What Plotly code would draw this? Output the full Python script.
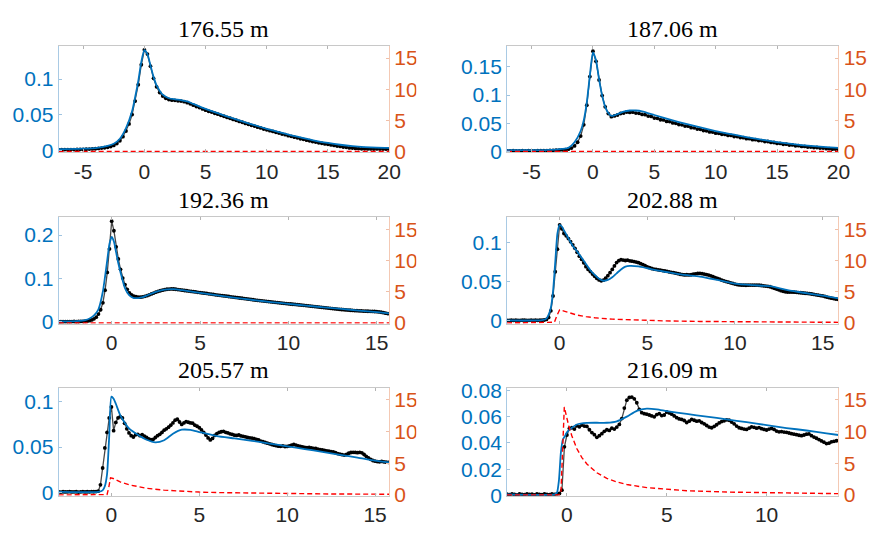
import numpy as np
import plotly.graph_objects as go

# ---------------------------------------------------------------------------
# Panel titles (depth of each record)
TITLES = ["176.55 m", "187.06 m", "192.36 m", "202.88 m", "205.57 m", "216.09 m"]

# ---------------------------------------------------------------------------
# Measured signal (black), sampled on a regular grid starting at X0 with step DX
P1_X0, P1_DX = -7.0, 0.25
P1_DATA = [0.0008, 0.0007, 0.0009, 0.0008, 0.0010, 0.0009, 0.0011, 0.0012, 0.0012, 0.0014,
           0.0016, 0.0019, 0.0021, 0.0025, 0.0030, 0.0035, 0.0042, 0.0052, 0.0067, 0.0094,
           0.0133, 0.0190, 0.0270, 0.0370, 0.0500, 0.0690, 0.0920, 0.1200, 0.1410, 0.1350,
           0.1180, 0.1010, 0.0890, 0.0810, 0.0760, 0.0728, 0.0712, 0.0703, 0.0700, 0.0694,
           0.0690, 0.0681, 0.0668, 0.0651, 0.0632, 0.0614, 0.0599, 0.0580, 0.0563, 0.0547,
           0.0535, 0.0519, 0.0506, 0.0490, 0.0477, 0.0461, 0.0449, 0.0433, 0.0421, 0.0405,
           0.0393, 0.0377, 0.0365, 0.0350, 0.0339, 0.0324, 0.0313, 0.0298, 0.0287, 0.0274,
           0.0264, 0.0251, 0.0242, 0.0228, 0.0219, 0.0205, 0.0196, 0.0183, 0.0174, 0.0161,
           0.0153, 0.0141, 0.0133, 0.0121, 0.0114, 0.0104, 0.0098, 0.0089, 0.0084, 0.0074,
           0.0068, 0.0059, 0.0054, 0.0045, 0.0041, 0.0033, 0.0031, 0.0025, 0.0024, 0.0020,
           0.0021, 0.0018, 0.0019, 0.0017, 0.0018, 0.0016, 0.0017, 0.0015, 0.0016]

P2_X0, P2_DX = -7.0, 0.25
P2_DATA = [0.0006, 0.0004, 0.0008, 0.0005, 0.0007, 0.0009, 0.0005, 0.0008, 0.0010, 0.0007,
           0.0010, 0.0008, 0.0012, 0.0011, 0.0014, 0.0013, 0.0017, 0.0018, 0.0024, 0.0027,
           0.0036, 0.0055, 0.0095, 0.0160, 0.0270, 0.0470, 0.0820, 0.1330, 0.1780, 0.1600,
           0.1270, 0.0990, 0.0790, 0.0670, 0.0615, 0.0628, 0.0645, 0.0672, 0.0680, 0.0698,
           0.0690, 0.0696, 0.0680, 0.0675, 0.0655, 0.0650, 0.0626, 0.0620, 0.0590, 0.0585,
           0.0560, 0.0558, 0.0530, 0.0528, 0.0503, 0.0498, 0.0474, 0.0470, 0.0448, 0.0445,
           0.0420, 0.0416, 0.0394, 0.0390, 0.0368, 0.0364, 0.0344, 0.0340, 0.0321, 0.0319,
           0.0301, 0.0299, 0.0282, 0.0281, 0.0262, 0.0260, 0.0242, 0.0241, 0.0224, 0.0223,
           0.0206, 0.0205, 0.0189, 0.0189, 0.0173, 0.0173, 0.0156, 0.0155, 0.0138, 0.0139,
           0.0124, 0.0125, 0.0111, 0.0112, 0.0097, 0.0098, 0.0085, 0.0086, 0.0074, 0.0075,
           0.0065, 0.0066, 0.0055, 0.0056, 0.0045, 0.0046, 0.0037, 0.0039, 0.0033]

P3_X0, P3_DX = -3.0, 0.125
P3_DATA = [0.0006, 0.0005, 0.0007, 0.0006, 0.0008, 0.0007, 0.0008, 0.0009, 0.0008, 0.0010,
           0.0011, 0.0012, 0.0015, 0.0020, 0.0029, 0.0045, 0.0070, 0.0110, 0.0180, 0.0280,
           0.0440, 0.0730, 0.1140, 0.1680, 0.2320, 0.2100, 0.1730, 0.1450, 0.1210, 0.1010,
           0.0860, 0.0750, 0.0670, 0.0625, 0.0595, 0.0580, 0.0572, 0.0570, 0.0578, 0.0590,
           0.0605, 0.0625, 0.0645, 0.0665, 0.0685, 0.0702, 0.0718, 0.0732, 0.0743, 0.0752,
           0.0757, 0.0760, 0.0758, 0.0752, 0.0745, 0.0740, 0.0732, 0.0724, 0.0718, 0.0710,
           0.0703, 0.0697, 0.0690, 0.0682, 0.0675, 0.0668, 0.0662, 0.0655, 0.0648, 0.0640,
           0.0632, 0.0625, 0.0618, 0.0612, 0.0605, 0.0598, 0.0592, 0.0585, 0.0578, 0.0571,
           0.0565, 0.0558, 0.0551, 0.0545, 0.0538, 0.0531, 0.0524, 0.0517, 0.0510, 0.0504,
           0.0498, 0.0492, 0.0486, 0.0480, 0.0474, 0.0468, 0.0462, 0.0456, 0.0451, 0.0446,
           0.0440, 0.0434, 0.0428, 0.0422, 0.0417, 0.0412, 0.0407, 0.0402, 0.0397, 0.0392,
           0.0387, 0.0382, 0.0377, 0.0371, 0.0365, 0.0359, 0.0353, 0.0347, 0.0341, 0.0336,
           0.0331, 0.0325, 0.0319, 0.0313, 0.0307, 0.0301, 0.0296, 0.0291, 0.0286, 0.0281,
           0.0277, 0.0273, 0.0269, 0.0265, 0.0262, 0.0259, 0.0256, 0.0253, 0.0250, 0.0248,
           0.0246, 0.0244, 0.0242, 0.0240, 0.0236, 0.0230, 0.0222, 0.0212, 0.0201, 0.0192,
           0.0186]

P4_X0, P4_DX = -3.0, 0.125
P4_DATA = [0.0008, 0.0006, 0.0009, 0.0007, 0.0010, 0.0008, 0.0006, 0.0009, 0.0011, 0.0007,
           0.0008, 0.0010, 0.0006, 0.0009, 0.0008, 0.0010, 0.0009, 0.0012, 0.0020, 0.0045,
           0.0130, 0.0320, 0.0630, 0.0920, 0.1230, 0.1180, 0.1120, 0.1090, 0.1055, 0.1015,
           0.0975, 0.0930, 0.0880, 0.0830, 0.0790, 0.0745, 0.0695, 0.0660, 0.0632, 0.0600,
           0.0572, 0.0545, 0.0525, 0.0515, 0.0522, 0.0548, 0.0580, 0.0618, 0.0660, 0.0705,
           0.0748, 0.0772, 0.0785, 0.0780, 0.0774, 0.0779, 0.0770, 0.0766, 0.0760, 0.0754,
           0.0746, 0.0734, 0.0722, 0.0707, 0.0692, 0.0682, 0.0672, 0.0665, 0.0660, 0.0655,
           0.0650, 0.0645, 0.0640, 0.0635, 0.0628, 0.0623, 0.0618, 0.0612, 0.0605, 0.0598,
           0.0594, 0.0590, 0.0592, 0.0589, 0.0592, 0.0598, 0.0604, 0.0608, 0.0610, 0.0606,
           0.0600, 0.0594, 0.0588, 0.0578, 0.0566, 0.0555, 0.0545, 0.0535, 0.0522, 0.0512,
           0.0504, 0.0496, 0.0488, 0.0480, 0.0472, 0.0466, 0.0462, 0.0460, 0.0458, 0.0457,
           0.0458, 0.0460, 0.0459, 0.0458, 0.0460, 0.0457, 0.0454, 0.0450, 0.0447, 0.0443,
           0.0438, 0.0428, 0.0418, 0.0408, 0.0398, 0.0388, 0.0380, 0.0374, 0.0371, 0.0370,
           0.0371, 0.0369, 0.0366, 0.0363, 0.0361, 0.0358, 0.0355, 0.0352, 0.0349, 0.0345,
           0.0340, 0.0335, 0.0330, 0.0325, 0.0320, 0.0313, 0.0305, 0.0298, 0.0292, 0.0286,
           0.0281, 0.0277]

P5_X0, P5_DX = -3.0, 0.125
P5_DATA = [0.0008, 0.0006, 0.0009, 0.0007, 0.0008, 0.0010, 0.0007, 0.0008, 0.0009, 0.0006,
           0.0008, 0.0010, 0.0007, 0.0009, 0.0008, 0.0010, 0.0009, 0.0011, 0.0016, 0.0085,
           0.0270, 0.0490, 0.0660, 0.0820, 0.0940, 0.0680, 0.0770, 0.0820, 0.0835, 0.0820,
           0.0760, 0.0700, 0.0655, 0.0625, 0.0610, 0.0635, 0.0640, 0.0625, 0.0635, 0.0620,
           0.0605, 0.0590, 0.0580, 0.0585, 0.0605, 0.0625, 0.0640, 0.0660, 0.0685, 0.0700,
           0.0718, 0.0740, 0.0765, 0.0795, 0.0805, 0.0775, 0.0748, 0.0765, 0.0778, 0.0772,
           0.0765, 0.0762, 0.0740, 0.0728, 0.0712, 0.0688, 0.0660, 0.0632, 0.0600, 0.0578,
           0.0595, 0.0628, 0.0648, 0.0660, 0.0668, 0.0672, 0.0662, 0.0655, 0.0645, 0.0638,
           0.0630, 0.0628, 0.0632, 0.0622, 0.0618, 0.0612, 0.0605, 0.0600, 0.0598, 0.0592,
           0.0585, 0.0578, 0.0565, 0.0558, 0.0550, 0.0542, 0.0535, 0.0528, 0.0520, 0.0515,
           0.0510, 0.0508, 0.0512, 0.0506, 0.0507, 0.0512, 0.0520, 0.0528, 0.0522, 0.0512,
           0.0508, 0.0502, 0.0497, 0.0493, 0.0496, 0.0490, 0.0486, 0.0484, 0.0478, 0.0472,
           0.0468, 0.0462, 0.0458, 0.0455, 0.0450, 0.0446, 0.0438, 0.0428, 0.0422, 0.0416,
           0.0412, 0.0418, 0.0432, 0.0440, 0.0442, 0.0441, 0.0438, 0.0442, 0.0436, 0.0418,
           0.0398, 0.0380, 0.0365, 0.0352, 0.0345, 0.0340, 0.0338, 0.0342, 0.0338, 0.0334,
           0.0332]

P6_X0, P6_DX = -3.0, 0.125
P6_DATA = [0.0010, 0.0006, 0.0012, 0.0008, 0.0005, 0.0011, 0.0009, 0.0006, 0.0012, 0.0008,
           0.0010, 0.0005, 0.0011, 0.0009, 0.0007, 0.0012, 0.0008, 0.0006, 0.0011, 0.0009,
           0.0012, 0.0015, 0.0040, 0.0370, 0.0460, 0.0510, 0.0515, 0.0505, 0.0530, 0.0522,
           0.0535, 0.0528, 0.0525, 0.0500, 0.0478, 0.0462, 0.0442, 0.0455, 0.0470, 0.0488,
           0.0500, 0.0495, 0.0512, 0.0505, 0.0520, 0.0540, 0.0585, 0.0665, 0.0725, 0.0745,
           0.0748, 0.0735, 0.0705, 0.0655, 0.0630, 0.0622, 0.0618, 0.0612, 0.0605, 0.0598,
           0.0615, 0.0622, 0.0608, 0.0612, 0.0635, 0.0628, 0.0618, 0.0605, 0.0592, 0.0582,
           0.0578, 0.0570, 0.0555, 0.0565, 0.0578, 0.0572, 0.0565, 0.0568, 0.0555, 0.0545,
           0.0532, 0.0520, 0.0515, 0.0525, 0.0538, 0.0552, 0.0562, 0.0568, 0.0575, 0.0572,
           0.0558, 0.0545, 0.0528, 0.0515, 0.0510, 0.0505, 0.0502, 0.0512, 0.0522, 0.0518,
           0.0512, 0.0516, 0.0508, 0.0502, 0.0498, 0.0505, 0.0510, 0.0502, 0.0490, 0.0484,
           0.0486, 0.0482, 0.0480, 0.0475, 0.0470, 0.0466, 0.0462, 0.0458, 0.0455, 0.0460,
           0.0466, 0.0468, 0.0455, 0.0444, 0.0435, 0.0425, 0.0415, 0.0405, 0.0395, 0.0398,
           0.0408, 0.0412, 0.0416, 0.0418]

# ---------------------------------------------------------------------------
# Model fit (blue)
P1_FIT_X = [-7, -5, -4, -3, -2.5, -2, -1.5, -1, -0.75, -0.5, -0.25, 0, 0.25, 0.5, 0.75, 1,
            1.5, 2, 2.5, 3, 3.5, 4, 5, 6, 7, 8, 9, 10, 11, 12, 13, 14, 15, 16, 17, 18, 19, 20]
P1_FIT_Y = [0.0015, 0.0022, 0.0030, 0.0060, 0.0090, 0.0160, 0.0310, 0.0550, 0.0750, 0.0970,
            0.1240, 0.1405, 0.1350, 0.1190, 0.1030, 0.0910, 0.0780, 0.0730, 0.0715, 0.0705,
            0.0685, 0.0650, 0.0580, 0.0520, 0.0460, 0.0405, 0.0352, 0.0301, 0.0254, 0.0210,
            0.0170, 0.0133, 0.0102, 0.0077, 0.0058, 0.0045, 0.0037, 0.0033]

P2_FIT_X = [-7, -4, -3, -2.5, -2, -1.5, -1, -0.75, -0.5, -0.25, 0, 0.25, 0.5, 0.75, 1, 1.25,
            1.5, 1.75, 2, 2.5, 3, 3.5, 4, 5, 6, 7, 8, 9, 10, 11, 12, 13, 14, 15, 16, 17, 18,
            19, 20]
P2_FIT_Y = [0.0018, 0.0020, 0.0030, 0.0040, 0.0060, 0.0160, 0.0360, 0.0550, 0.0870, 0.1350,
            0.1760, 0.1620, 0.1280, 0.0990, 0.0790, 0.0680, 0.0630, 0.0640, 0.0660, 0.0705,
            0.0725, 0.0725, 0.0710, 0.0645, 0.0580, 0.0520, 0.0465, 0.0410, 0.0360, 0.0315,
            0.0272, 0.0232, 0.0196, 0.0163, 0.0134, 0.0110, 0.0090, 0.0073, 0.0060]

P3_FIT_X = [-3, -2, -1.5, -1.25, -1, -0.75, -0.5, -0.375, -0.25, -0.125, 0, 0.125, 0.25,
            0.375, 0.5, 0.75, 1, 1.25, 1.5, 1.75, 2, 2.5, 3, 3.5, 4, 5, 6, 7, 8, 9, 10, 11,
            12, 13, 14, 15, 15.7]
P3_FIT_Y = [0.0010, 0.0020, 0.0040, 0.0080, 0.0150, 0.0290, 0.0700, 0.1050, 0.1430, 0.1800,
            0.1960, 0.1850, 0.1600, 0.1350, 0.1140, 0.0780, 0.0610, 0.0550, 0.0550, 0.0570,
            0.0610, 0.0690, 0.0745, 0.0755, 0.0730, 0.0670, 0.0610, 0.0555, 0.0505, 0.0458,
            0.0415, 0.0375, 0.0335, 0.0298, 0.0262, 0.0225, 0.0195]

P4_FIT_X = [-3, -1, -0.75, -0.625, -0.5, -0.375, -0.25, -0.125, 0, 0.125, 0.25, 0.5, 0.75,
            1, 1.25, 1.5, 1.75, 2, 2.25, 2.5, 2.75, 3, 3.25, 3.5, 3.75, 4, 4.5, 5, 5.5, 6, 7,
            8, 9, 10, 11, 12, 13, 14, 15, 15.9]
P4_FIT_Y = [0.0008, 0.0010, 0.0030, 0.0080, 0.0170, 0.0380, 0.0750, 0.1120, 0.1230, 0.1210,
            0.1160, 0.1060, 0.0960, 0.0890, 0.0810, 0.0730, 0.0650, 0.0590, 0.0540, 0.0515,
            0.0525, 0.0560, 0.0610, 0.0660, 0.0695, 0.0705, 0.0698, 0.0675, 0.0650, 0.0630,
            0.0592, 0.0568, 0.0525, 0.0478, 0.0458, 0.0445, 0.0395, 0.0358, 0.0325, 0.0290]

P5_FIT_X = [-3, -0.75, -0.5, -0.375, -0.25, -0.125, 0, 0.125, 0.25, 0.5, 0.75, 1, 1.5, 2,
            2.5, 3, 3.5, 4, 4.5, 5, 6, 7, 8, 9, 10, 11, 12, 13, 14, 15, 15.8]
P5_FIT_Y = [0.0007, 0.0008, 0.0025, 0.0070, 0.0200, 0.0620, 0.1053, 0.1030, 0.0975, 0.0850,
            0.0770, 0.0705, 0.0635, 0.0580, 0.0552, 0.0575, 0.0645, 0.0690, 0.0688, 0.0665,
            0.0620, 0.0595, 0.0568, 0.0538, 0.0508, 0.0478, 0.0448, 0.0415, 0.0385, 0.0352,
            0.0332]

P6_FIT_X = [-3, -0.6, -0.5, -0.4, -0.3, -0.2, -0.1, 0, 0.25, 0.5, 1, 1.5, 2, 2.5, 3, 3.5, 4,
            4.5, 5, 6, 7, 8, 9, 10, 11, 12, 13, 13.6]
P6_FIT_Y = [0.0008, 0.0009, 0.0020, 0.0114, 0.0330, 0.0426, 0.0450, 0.0480, 0.0515, 0.0540,
            0.0552, 0.0553, 0.0553, 0.0564, 0.0600, 0.0644, 0.0660, 0.0655, 0.0642, 0.0620,
            0.0600, 0.0579, 0.0557, 0.0535, 0.0513, 0.0494, 0.0472, 0.0460]

# ---------------------------------------------------------------------------
# Rate curve on the right-hand axis (red, dashed)
P1_RATE_X = [-7, -0.5, 0, 5, 20]
P1_RATE_Y = [0.00, 0.00, 0.06, 0.03, 0.01]
P2_RATE_X = [-7, -0.5, 0, 5, 20]
P2_RATE_Y = [0.00, 0.00, 0.05, 0.03, 0.01]
P3_RATE_X = [-3, -0.5, 0, 5, 15.7]
P3_RATE_Y = [0.00, 0.00, 0.06, 0.03, 0.01]
P4_RATE_X = [-3, -0.5, -0.3, -0.15, 0, 0.25, 0.5, 1, 1.5, 2, 3, 4, 5, 6, 8, 10, 12, 14, 15.9]
P4_RATE_Y = [0.0, 0.0, 0.1, 1.2, 2.1, 1.9, 1.65, 1.25, 1.0, 0.82, 0.6, 0.47, 0.38, 0.32,
             0.23, 0.17, 0.13, 0.10, 0.09]
P5_RATE_X = [-3, -0.4, -0.25, -0.15, -0.05, 0.1, 0.25, 0.5, 1, 1.5, 2, 3, 4, 5, 6, 8, 10,
             12, 14, 15.8]
P5_RATE_Y = [0.0, 0.0, 0.05, 1.2, 2.7, 2.6, 2.4, 2.05, 1.6, 1.3, 1.05, 0.75, 0.55, 0.45,
             0.37, 0.27, 0.20, 0.16, 0.13, 0.11]
P6_RATE_X = [-3, -0.4, -0.3, -0.22, -0.13, -0.05, 0, 0.1, 0.25, 0.5, 0.75, 1, 1.5, 2, 2.5,
             3, 4, 5, 6, 8, 10, 12, 13.6]
P6_RATE_Y = [0.0, 0.0, 0.3, 7.0, 13.9, 12.8, 12.0, 10.8, 9.3, 7.3, 5.9, 4.9, 3.5, 2.6, 2.05,
             1.65, 1.15, 0.85, 0.66, 0.45, 0.32, 0.25, 0.20]

# ---------------------------------------------------------------------------
# Axis limits and tick positions
X_RANGES = [[-7, 20], [-7, 20], [-3, 15.7], [-3, 15.9], [-3, 15.8], [-3, 13.6]]
Y_RANGES = [[-0.0031, 0.1465], [-0.0022, 0.1876], [-0.0044, 0.2406],
            [-0.0037, 0.1326], [-0.0036, 0.1152], [-0.0003, 0.0820]]
R_RANGE = [-0.15, 16.95]
X_TICKS = [[-5, 0, 5, 10, 15, 20], [-5, 0, 5, 10, 15, 20], [0, 5, 10, 15],
           [0, 5, 10, 15], [0, 5, 10, 15], [0, 5, 10]]
Y_TICKS = [[0, 0.05, 0.1], [0, 0.05, 0.1, 0.15], [0, 0.1, 0.2],
           [0, 0.05, 0.1], [0, 0.05, 0.1], [0, 0.02, 0.04, 0.06, 0.08]]
R_TICKS = [0, 5, 10, 15]

panels = [
    dict(x0=P1_X0, dx=P1_DX, data=P1_DATA, fx=P1_FIT_X, fy=P1_FIT_Y, rx=P1_RATE_X, ry=P1_RATE_Y),
    dict(x0=P2_X0, dx=P2_DX, data=P2_DATA, fx=P2_FIT_X, fy=P2_FIT_Y, rx=P2_RATE_X, ry=P2_RATE_Y),
    dict(x0=P3_X0, dx=P3_DX, data=P3_DATA, fx=P3_FIT_X, fy=P3_FIT_Y, rx=P3_RATE_X, ry=P3_RATE_Y),
    dict(x0=P4_X0, dx=P4_DX, data=P4_DATA, fx=P4_FIT_X, fy=P4_FIT_Y, rx=P4_RATE_X, ry=P4_RATE_Y),
    dict(x0=P5_X0, dx=P5_DX, data=P5_DATA, fx=P5_FIT_X, fy=P5_FIT_Y, rx=P5_RATE_X, ry=P5_RATE_Y),
    dict(x0=P6_X0, dx=P6_DX, data=P6_DATA, fx=P6_FIT_X, fy=P6_FIT_Y, rx=P6_RATE_X, ry=P6_RATE_Y),
]

# ---------------------------------------------------------------------------
W, H = 883, 537
COL_X = [(59.5, 394.5), (514.0, 850.0)]
ROW_Y = [(38.3, 149.0), (216.5, 327.0), (393.3, 505.7)]

BLUE = "#0072BD"
ORANGE = "#D95319"
TEXT = "#262626"
SANS = "Liberation Sans, Arial, sans-serif"
SERIF = "Liberation Serif, Times New Roman, serif"


def fmt(v):
    return "%g" % v


fig = go.Figure()
layout = dict(width=W, height=H, margin=dict(l=0, r=0, t=0, b=0),
              paper_bgcolor="white", plot_bgcolor="white", showlegend=False)
annotations = []

for i, p in enumerate(panels):
    n = i + 1
    row, col = divmod(i, 2)
    xs = "" if n == 1 else str(n)
    yl = 2 * n - 1
    yr = 2 * n
    yls = "" if yl == 1 else str(yl)
    xref, ylref, yrref = "x" + xs, "y" + yls, "y" + str(yr)

    xd = p["x0"] + p["dx"] * np.arange(len(p["data"]))

    fig.add_trace(go.Scatter(x=xd, y=p["data"], mode="lines+markers",
                             line=dict(color="rgba(40,40,40,0.85)", width=1.3),
                             marker=dict(color="black", size=3.8, symbol="circle"),
                             xaxis=xref, yaxis=ylref, hoverinfo="skip"))
    fig.add_trace(go.Scatter(x=p["fx"], y=p["fy"], mode="lines",
                             line=dict(color=BLUE, width=1.8, shape="spline", smoothing=0.6),
                             xaxis=xref, yaxis=ylref, hoverinfo="skip"))
    fig.add_trace(go.Scatter(x=p["rx"], y=p["ry"], mode="lines",
                             line=dict(color="#FF0000", width=1.4, dash="5px,3px"),
                             xaxis=xref, yaxis=yrref, hoverinfo="skip"))

    x0p, x1p = COL_X[col]
    y0p, y1p = ROW_Y[row]
    xdom = [x0p / W, x1p / W]
    ydom = [(H - y1p) / H, (H - y0p) / H]

    layout["xaxis" + xs] = dict(
        domain=xdom, anchor=ylref, range=X_RANGES[i],
        tickmode="array", tickvals=X_TICKS[i], ticktext=[fmt(v) for v in X_TICKS[i]],
        ticks="inside", ticklen=3, tickwidth=1, tickcolor="#b4b4b4",
        showline=True, linecolor="#c8c8c8", linewidth=1, mirror="ticks",
        showgrid=False, zeroline=False,
        tickfont=dict(family=SANS, size=21, color=TEXT))
    layout["yaxis" + yls] = dict(
        domain=ydom, anchor=xref, range=Y_RANGES[i],
        tickmode="array", tickvals=Y_TICKS[i], ticktext=[fmt(v) for v in Y_TICKS[i]],
        ticks="inside", ticklen=3, tickwidth=1, tickcolor="#9fc3e0",
        showline=True, linecolor="#a9cae4", linewidth=1,
        showgrid=False, zeroline=False,
        tickfont=dict(family=SANS, size=21, color=BLUE))
    layout["yaxis" + str(yr)] = dict(
        overlaying=ylref, anchor=xref, side="right", range=R_RANGE,
        tickmode="array", tickvals=R_TICKS, ticktext=[fmt(v) for v in R_TICKS],
        ticks="inside", ticklen=3, tickwidth=1, tickcolor="#f0bfa8",
        showline=True, linecolor="#f4c9b4", linewidth=1,
        showgrid=False, zeroline=False,
        tickfont=dict(family=SANS, size=21, color=ORANGE))

    annotations.append(dict(
        text=TITLES[i], xref="paper", yref="paper",
        x=(x0p + x1p) / 2 / W, y=(H - (y0p - 18)) / H,
        xanchor="center", yanchor="middle", showarrow=False,
        font=dict(family=SERIF, size=24, color="black")))

layout["annotations"] = annotations
# right-hand labels of the left column are cut off where the next column begins
layout["shapes"] = [dict(type="rect", xref="paper", yref="paper", layer="above",
                         x0=422 / W, x1=445 / W, y0=0, y1=1,
                         fillcolor="white", line=dict(width=0))]
fig.update_layout(**layout)
fig.write_html("out.html")
